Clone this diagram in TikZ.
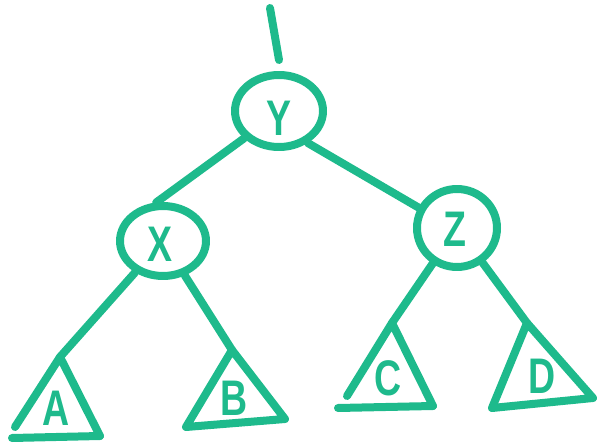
\documentclass[tikz,border=0pt]{standalone}
\usepackage{fontspec}
\setmainfont{Liberation Sans}
\usetikzlibrary{shapes.geometric}
\definecolor{marker}{RGB}{30,186,140}
\tikzset{
  pen/.style={draw=marker, line width=8pt, line cap=round, line join=round},
  bubble/.style={ellipse, pen, inner sep=0pt},
  letter/.style={text=marker, font=\fontsize{50}{50}\selectfont\bfseries, inner sep=0pt},
}
\newcommand{\hand}[1]{\scalebox{0.75}[1]{#1}}
\begin{document}
\begin{tikzpicture}[x=1pt,y=-1pt]
\useasboundingbox (0,0) rectangle (605,444);
% circles
\node[bubble, minimum width=88pt, minimum height=72pt] (Y) at (279,111) {};
\node[letter] (Yl) at (279,118) {\hand{Y}};
\node[bubble, minimum width=86pt, minimum height=70pt] (X) at (163,241) {};
\node[letter] (Xl) at (160,244) {\hand{X}};
\node[bubble, minimum width=80pt, minimum height=78pt] (Z) at (457,228) {};
\node[letter] (Zl) at (455,229) {\hand{Z}};
% top stub
\coordinate (top) at (270,8);
\coordinate (topend) at (279,60);
\draw[pen] (top) -- (topend);
% triangle apexes and corners
\coordinate (tA) at (60,357);  \coordinate (Al) at (15,427);  \coordinate (Ar) at (100,436); \coordinate (Ab) at (12,438);
\coordinate (tB) at (232,350); \coordinate (Bl) at (186,427); \coordinate (Br) at (285,419);
\coordinate (tC) at (392,323); \coordinate (Cl) at (347,396); \coordinate (Cr) at (433,406); \coordinate (Cb) at (338,408);
\coordinate (tD) at (527,323); \coordinate (Dl) at (492,408); \coordinate (Dr) at (593,398);
\draw[pen] (Al) -- (tA) -- (Ar); \draw[pen] (Ab) -- (Ar);
\draw[pen] (tB) -- (Bl) -- (Br) -- cycle;
\draw[pen] (Cl) -- (tC) -- (Cr); \draw[pen] (Cb) -- (Cr);
\draw[pen] (tD) -- (Dl) -- (Dr) -- cycle;
% letters in triangles
\node[letter] (A) at (56,408) {\hand{A}};
\node[letter] (B) at (234,398) {\hand{B}};
\node[letter] (C) at (388,378) {\hand{C}};
\node[letter] (D) at (542,376) {\hand{D}};
% connectors
\draw[pen] (Y.218) -- (X.100);
\draw[pen] (Y.312) -- (Z.152);
\draw[pen] (X) -- (tA);
\draw[pen] (X) -- (tB);
\draw[pen] (Z) -- (tC);
\draw[pen] (Z) -- (tD);
\end{tikzpicture}
\end{document}
